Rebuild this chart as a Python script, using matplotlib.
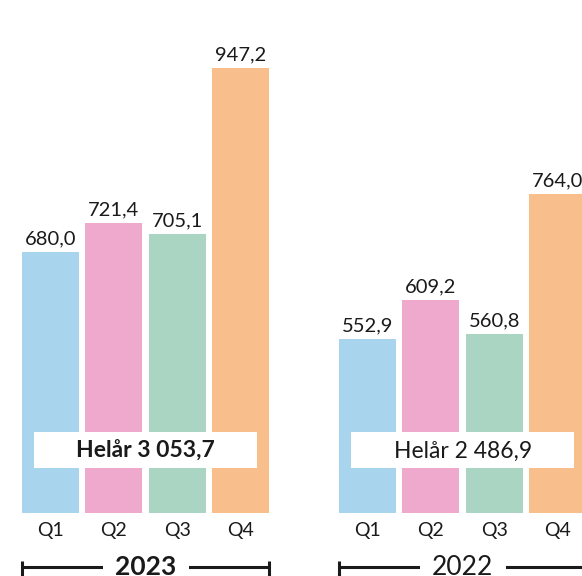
import matplotlib
matplotlib.use("Agg")
import matplotlib.pyplot as plt
from matplotlib.patches import Rectangle

years = ["2023", "2022"]
quarters = ["Q1", "Q2", "Q3", "Q4"]
values_2023 = [680.0, 721.4, 705.1, 947.2]
values_2022 = [552.9, 609.2, 560.8, 764.0]
totals = ["Helår 3 053,7", "Helår 2 486,9"]
colors = ["#A9D4ED", "#EFA9CD", "#A9D5C2", "#F8BE8C"]

plt.rcParams['font.family'] = ['Lato', 'DejaVu Sans']
TXT = "#1a1a1a"

fig = plt.figure(figsize=(5.82, 5.76), dpi=100)
ax = fig.add_axes([0, 63/576, 1, 513/576])
ax.set_xlim(-0.797, 8.383)
ax.set_ylim(300, 1045.6)
ax.axis('off')

def fmt(v):
    return f"{v:.1f}".replace(".", ",")

groups = [values_2023, values_2022]
for g, vals in enumerate(groups):
    base = g * 5
    xs = [base + i for i in range(4)]
    ax.bar(xs, vals, width=0.9, color=colors, zorder=1)
    for x, v, q in zip(xs, vals, quarters):
        ax.annotate(fmt(v), (x, v), xytext=(0, 5.5), textcoords='offset points',
                    ha='center', va='baseline', fontsize=14.5, color=TXT)
        ax.text(x, 266.6, q, ha='center', va='baseline', fontsize=14, color=TXT)
    cx = base + 1.5
    ax.add_patch(Rectangle((cx - 1.76, 365.4), 3.52, 52.3, facecolor='white',
                           edgecolor='none', zorder=3))
    ax.text(cx, 380, totals[g], ha='center', va='baseline', fontsize=16.5,
            fontweight='bold' if g == 0 else 'normal', color=TXT, zorder=4)
    x0, x1 = base - 0.45, base + 3.45
    ax.plot([x0, x1], [221.9, 221.9], color=TXT, lw=2.2, clip_on=False,
            solid_capstyle='butt')
    for xe in (x0, x1):
        ax.plot([xe, xe], [202.6, 230.2], color=TXT, lw=2.2, clip_on=False,
                solid_capstyle='butt')
    ax.text(cx, 210.5, years[g], ha='center', va='baseline', fontsize=19,
            fontweight='bold' if g == 0 else 'normal', color=TXT,
            bbox=dict(facecolor='white', edgecolor='none', pad=9))

fig.savefig("out.png", dpi=100)
